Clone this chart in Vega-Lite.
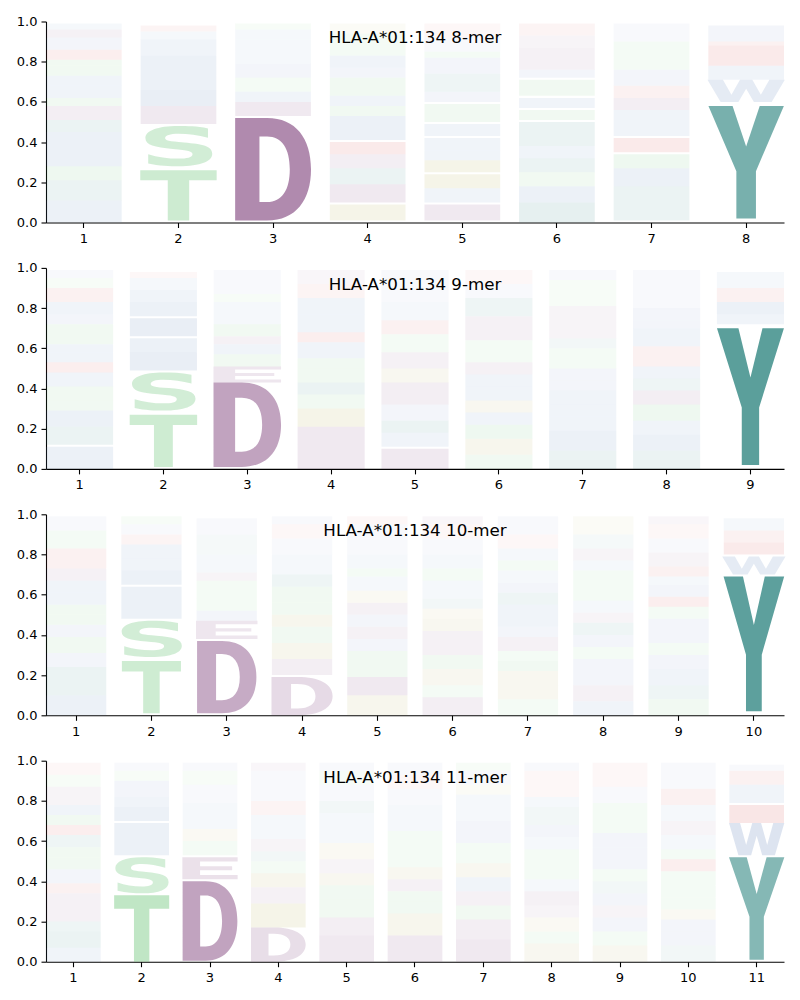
{
"$schema": "https://vega.github.io/schema/vega-lite/v6.json",
"background": "white",
"padding": {"left": 16, "top": 15.5, "right": 5, "bottom": 5},
"spacing": 16.4,
"config": {
  "view": {"stroke": null},
  "axis": {"labelFont": "DejaVu Sans", "labelFontSize": 13, "labelColor": "#000", "domainColor": "#000", "tickColor": "#000", "domainWidth": 1.1, "tickWidth": 1.1, "tickSize": 5, "grid": false, "title": null, "labelFlush": false},
  "title": {"font": "DejaVu Sans", "fontSize": 16.7, "fontWeight": "normal", "color": "#000", "frame": "group", "anchor": "middle", "baseline": "alphabetic", "offset": -31.5}
},
"resolve": {"scale": {"x": "independent", "y": "independent", "shape": "independent", "size": "independent", "opacity": "independent"}},
"datasets": {"logo": [
{"k":8,"pos":1,"aa":"F","lo":0,"hi":0.11,"a":0.15},{"k":8,"pos":1,"aa":"Y","lo":0.11,"hi":0.21,"a":0.12},{"k":8,"pos":1,"aa":"T","lo":0.21,"hi":0.28,"a":0.12},{"k":8,"pos":1,"aa":"M","lo":0.28,"hi":0.38,"a":0.15},{"k":8,"pos":1,"aa":"I","lo":0.38,"hi":0.45,"a":0.15},{"k":8,"pos":1,"aa":"Y","lo":0.45,"hi":0.51,"a":0.12},{"k":8,"pos":1,"aa":"D","lo":0.51,"hi":0.58,"a":0.12},{"k":8,"pos":1,"aa":"S","lo":0.58,"hi":0.62,"a":0.1},{"k":8,"pos":1,"aa":"L","lo":0.62,"hi":0.68,"a":0.12},{"k":8,"pos":1,"aa":"A","lo":0.68,"hi":0.73,"a":0.12},{"k":8,"pos":1,"aa":"N","lo":0.73,"hi":0.78,"a":0.1},{"k":8,"pos":1,"aa":"Q","lo":0.78,"hi":0.81,"a":0.1},{"k":8,"pos":1,"aa":"R","lo":0.81,"hi":0.86,"a":0.12},{"k":8,"pos":1,"aa":"V","lo":0.86,"hi":0.92,"a":0.1},{"k":8,"pos":1,"aa":"E","lo":0.92,"hi":0.96,"a":0.1},{"k":8,"pos":1,"aa":"M","lo":0.96,"hi":0.99,"a":0.08},
{"k":8,"pos":2,"aa":"T","lo":0.01,"hi":0.26,"a":0.31},{"k":8,"pos":2,"aa":"S","lo":0.28,"hi":0.48,"a":0.28},{"k":8,"pos":2,"aa":"D","lo":0.49,"hi":0.58,"a":0.15},{"k":8,"pos":2,"aa":"V","lo":0.58,"hi":0.66,"a":0.18},{"k":8,"pos":2,"aa":"A","lo":0.66,"hi":0.73,"a":0.15},{"k":8,"pos":2,"aa":"M","lo":0.73,"hi":0.78,"a":0.15},{"k":8,"pos":2,"aa":"I","lo":0.78,"hi":0.83,"a":0.15},{"k":8,"pos":2,"aa":"L","lo":0.83,"hi":0.91,"a":0.12},{"k":8,"pos":2,"aa":"F","lo":0.91,"hi":0.95,"a":0.08},{"k":8,"pos":2,"aa":"R","lo":0.95,"hi":0.98,"a":0.08},
{"k":8,"pos":3,"aa":"D","lo":0.01,"hi":0.52,"a":0.7},{"k":8,"pos":3,"aa":"E","lo":0.53,"hi":0.6,"a":0.15},{"k":8,"pos":3,"aa":"W","lo":0.6,"hi":0.65,"a":0.12},{"k":8,"pos":3,"aa":"N","lo":0.65,"hi":0.72,"a":0.08},{"k":8,"pos":3,"aa":"V","lo":0.72,"hi":0.79,"a":0.1},{"k":8,"pos":3,"aa":"M","lo":0.79,"hi":0.85,"a":0.08},{"k":8,"pos":3,"aa":"L","lo":0.85,"hi":0.91,"a":0.08},{"k":8,"pos":3,"aa":"A","lo":0.91,"hi":0.96,"a":0.08},{"k":8,"pos":3,"aa":"Q","lo":0.96,"hi":0.99,"a":0.06},
{"k":8,"pos":4,"aa":"P","lo":0.01,"hi":0.09,"a":0.15},{"k":8,"pos":4,"aa":"D","lo":0.1,"hi":0.19,"a":0.15},{"k":8,"pos":4,"aa":"H","lo":0.19,"hi":0.27,"a":0.12},{"k":8,"pos":4,"aa":"E","lo":0.27,"hi":0.34,"a":0.12},{"k":8,"pos":4,"aa":"K","lo":0.34,"hi":0.4,"a":0.15},{"k":8,"pos":4,"aa":"W","lo":0.41,"hi":0.53,"a":0.15},{"k":8,"pos":4,"aa":"N","lo":0.53,"hi":0.58,"a":0.1},{"k":8,"pos":4,"aa":"L","lo":0.58,"hi":0.63,"a":0.12},{"k":8,"pos":4,"aa":"Q","lo":0.63,"hi":0.72,"a":0.1},{"k":8,"pos":4,"aa":"F","lo":0.72,"hi":0.77,"a":0.1},{"k":8,"pos":4,"aa":"I","lo":0.77,"hi":0.83,"a":0.12},{"k":8,"pos":4,"aa":"N","lo":0.83,"hi":0.89,"a":0.08},{"k":8,"pos":4,"aa":"S","lo":0.89,"hi":0.94,"a":0.08},{"k":8,"pos":4,"aa":"G","lo":0.94,"hi":0.99,"a":0.06},
{"k":8,"pos":5,"aa":"C","lo":0.01,"hi":0.09,"a":0.15},{"k":8,"pos":5,"aa":"F","lo":0.1,"hi":0.17,"a":0.12},{"k":8,"pos":5,"aa":"G","lo":0.17,"hi":0.24,"a":0.15},{"k":8,"pos":5,"aa":"P","lo":0.25,"hi":0.31,"a":0.15},{"k":8,"pos":5,"aa":"V","lo":0.31,"hi":0.36,"a":0.12},{"k":8,"pos":5,"aa":"A","lo":0.36,"hi":0.42,"a":0.12},{"k":8,"pos":5,"aa":"I","lo":0.43,"hi":0.49,"a":0.12},{"k":8,"pos":5,"aa":"T","lo":0.5,"hi":0.59,"a":0.1},{"k":8,"pos":5,"aa":"L","lo":0.6,"hi":0.65,"a":0.1},{"k":8,"pos":5,"aa":"Y","lo":0.65,"hi":0.74,"a":0.1},{"k":8,"pos":5,"aa":"W","lo":0.74,"hi":0.82,"a":0.1},{"k":8,"pos":5,"aa":"Q","lo":0.82,"hi":0.85,"a":0.08},{"k":8,"pos":5,"aa":"M","lo":0.85,"hi":0.92,"a":0.06},{"k":8,"pos":5,"aa":"K","lo":0.92,"hi":0.99,"a":0.06},
{"k":8,"pos":6,"aa":"H","lo":0,"hi":0.1,"a":0.15},{"k":8,"pos":6,"aa":"M","lo":0.1,"hi":0.18,"a":0.15},{"k":8,"pos":6,"aa":"Q","lo":0.18,"hi":0.25,"a":0.1},{"k":8,"pos":6,"aa":"Y","lo":0.25,"hi":0.32,"a":0.12},{"k":8,"pos":6,"aa":"I","lo":0.32,"hi":0.38,"a":0.12},{"k":8,"pos":6,"aa":"H","lo":0.38,"hi":0.5,"a":0.12},{"k":8,"pos":6,"aa":"N","lo":0.51,"hi":0.56,"a":0.1},{"k":8,"pos":6,"aa":"W","lo":0.57,"hi":0.62,"a":0.12},{"k":8,"pos":6,"aa":"T","lo":0.63,"hi":0.71,"a":0.1},{"k":8,"pos":6,"aa":"V","lo":0.72,"hi":0.76,"a":0.1},{"k":8,"pos":6,"aa":"C","lo":0.76,"hi":0.87,"a":0.1},{"k":8,"pos":6,"aa":"E","lo":0.87,"hi":0.93,"a":0.08},{"k":8,"pos":6,"aa":"R","lo":0.93,"hi":0.99,"a":0.08},
{"k":8,"pos":7,"aa":"Y","lo":0.01,"hi":0.09,"a":0.12},{"k":8,"pos":7,"aa":"H","lo":0.09,"hi":0.18,"a":0.12},{"k":8,"pos":7,"aa":"L","lo":0.18,"hi":0.27,"a":0.15},{"k":8,"pos":7,"aa":"Q","lo":0.27,"hi":0.34,"a":0.12},{"k":8,"pos":7,"aa":"K","lo":0.35,"hi":0.42,"a":0.15},{"k":8,"pos":7,"aa":"F","lo":0.43,"hi":0.56,"a":0.12},{"k":8,"pos":7,"aa":"C","lo":0.56,"hi":0.62,"a":0.12},{"k":8,"pos":7,"aa":"R","lo":0.62,"hi":0.68,"a":0.1},{"k":8,"pos":7,"aa":"M","lo":0.68,"hi":0.76,"a":0.1},{"k":8,"pos":7,"aa":"T","lo":0.76,"hi":0.82,"a":0.08},{"k":8,"pos":7,"aa":"Q","lo":0.82,"hi":0.9,"a":0.08},{"k":8,"pos":7,"aa":"L","lo":0.9,"hi":0.99,"a":0.06},
{"k":8,"pos":8,"aa":"Y","lo":0.02,"hi":0.58,"a":0.7},{"k":8,"pos":8,"aa":"W","lo":0.6,"hi":0.71,"a":0.18},{"k":8,"pos":8,"aa":"F","lo":0.71,"hi":0.78,"a":0.12},{"k":8,"pos":8,"aa":"K","lo":0.78,"hi":0.88,"a":0.15},{"k":8,"pos":8,"aa":"R","lo":0.88,"hi":0.9,"a":0.1},{"k":8,"pos":8,"aa":"F","lo":0.9,"hi":0.98,"a":0.1},

{"k":9,"pos":1,"aa":"F","lo":0,"hi":0.11,"a":0.15},{"k":9,"pos":1,"aa":"Y","lo":0.12,"hi":0.21,"a":0.12},{"k":9,"pos":1,"aa":"M","lo":0.21,"hi":0.29,"a":0.15},{"k":9,"pos":1,"aa":"T","lo":0.29,"hi":0.34,"a":0.1},{"k":9,"pos":1,"aa":"S","lo":0.34,"hi":0.41,"a":0.1},{"k":9,"pos":1,"aa":"V","lo":0.41,"hi":0.48,"a":0.12},{"k":9,"pos":1,"aa":"K","lo":0.48,"hi":0.53,"a":0.12},{"k":9,"pos":1,"aa":"L","lo":0.53,"hi":0.58,"a":0.12},{"k":9,"pos":1,"aa":"I","lo":0.58,"hi":0.62,"a":0.12},{"k":9,"pos":1,"aa":"Q","lo":0.62,"hi":0.72,"a":0.1},{"k":9,"pos":1,"aa":"I","lo":0.72,"hi":0.77,"a":0.1},{"k":9,"pos":1,"aa":"W","lo":0.77,"hi":0.83,"a":0.12},{"k":9,"pos":1,"aa":"R","lo":0.83,"hi":0.9,"a":0.1},{"k":9,"pos":1,"aa":"N","lo":0.9,"hi":0.95,"a":0.06},{"k":9,"pos":1,"aa":"M","lo":0.95,"hi":0.99,"a":0.06},
{"k":9,"pos":2,"aa":"T","lo":0.01,"hi":0.27,"a":0.3},{"k":9,"pos":2,"aa":"S","lo":0.29,"hi":0.48,"a":0.28},{"k":9,"pos":2,"aa":"V","lo":0.49,"hi":0.58,"a":0.18},{"k":9,"pos":2,"aa":"A","lo":0.58,"hi":0.65,"a":0.15},{"k":9,"pos":2,"aa":"M","lo":0.66,"hi":0.75,"a":0.18},{"k":9,"pos":2,"aa":"I","lo":0.76,"hi":0.83,"a":0.15},{"k":9,"pos":2,"aa":"L","lo":0.83,"hi":0.89,"a":0.12},{"k":9,"pos":2,"aa":"F","lo":0.89,"hi":0.95,"a":0.08},{"k":9,"pos":2,"aa":"R","lo":0.95,"hi":0.98,"a":0.06},
{"k":9,"pos":3,"aa":"D","lo":0.01,"hi":0.43,"a":0.55},{"k":9,"pos":3,"aa":"E","lo":0.43,"hi":0.51,"a":0.15},{"k":9,"pos":3,"aa":"N","lo":0.51,"hi":0.57,"a":0.1},{"k":9,"pos":3,"aa":"L","lo":0.57,"hi":0.62,"a":0.12},{"k":9,"pos":3,"aa":"C","lo":0.62,"hi":0.66,"a":0.1},{"k":9,"pos":3,"aa":"Q","lo":0.66,"hi":0.72,"a":0.1},{"k":9,"pos":3,"aa":"A","lo":0.72,"hi":0.77,"a":0.08},{"k":9,"pos":3,"aa":"W","lo":0.77,"hi":0.83,"a":0.08},{"k":9,"pos":3,"aa":"Q","lo":0.83,"hi":0.87,"a":0.06},{"k":9,"pos":3,"aa":"V","lo":0.87,"hi":0.94,"a":0.06},{"k":9,"pos":3,"aa":"M","lo":0.94,"hi":0.99,"a":0.06},
{"k":9,"pos":4,"aa":"D","lo":0,"hi":0.12,"a":0.15},{"k":9,"pos":4,"aa":"E","lo":0.12,"hi":0.21,"a":0.15},{"k":9,"pos":4,"aa":"P","lo":0.21,"hi":0.3,"a":0.15},{"k":9,"pos":4,"aa":"N","lo":0.3,"hi":0.37,"a":0.1},{"k":9,"pos":4,"aa":"H","lo":0.37,"hi":0.43,"a":0.12},{"k":9,"pos":4,"aa":"Q","lo":0.43,"hi":0.5,"a":0.1},{"k":9,"pos":4,"aa":"S","lo":0.5,"hi":0.55,"a":0.1},{"k":9,"pos":4,"aa":"A","lo":0.55,"hi":0.63,"a":0.12},{"k":9,"pos":4,"aa":"K","lo":0.63,"hi":0.68,"a":0.12},{"k":9,"pos":4,"aa":"V","lo":0.68,"hi":0.77,"a":0.12},{"k":9,"pos":4,"aa":"L","lo":0.77,"hi":0.85,"a":0.12},{"k":9,"pos":4,"aa":"R","lo":0.85,"hi":0.92,"a":0.08},{"k":9,"pos":4,"aa":"E","lo":0.92,"hi":0.99,"a":0.06},
{"k":9,"pos":5,"aa":"C","lo":0,"hi":0.1,"a":0.15},{"k":9,"pos":5,"aa":"I","lo":0.11,"hi":0.18,"a":0.12},{"k":9,"pos":5,"aa":"H","lo":0.18,"hi":0.24,"a":0.12},{"k":9,"pos":5,"aa":"V","lo":0.24,"hi":0.32,"a":0.1},{"k":9,"pos":5,"aa":"D","lo":0.32,"hi":0.43,"a":0.12},{"k":9,"pos":5,"aa":"G","lo":0.43,"hi":0.5,"a":0.1},{"k":9,"pos":5,"aa":"E","lo":0.5,"hi":0.58,"a":0.1},{"k":9,"pos":5,"aa":"N","lo":0.58,"hi":0.67,"a":0.08},{"k":9,"pos":5,"aa":"K","lo":0.67,"hi":0.74,"a":0.1},{"k":9,"pos":5,"aa":"A","lo":0.74,"hi":0.83,"a":0.08},{"k":9,"pos":5,"aa":"L","lo":0.83,"hi":0.92,"a":0.06},{"k":9,"pos":5,"aa":"F","lo":0.92,"hi":0.99,"a":0.06},
{"k":9,"pos":6,"aa":"T","lo":0,"hi":0.07,"a":0.1},{"k":9,"pos":6,"aa":"P","lo":0.07,"hi":0.15,"a":0.12},{"k":9,"pos":6,"aa":"Q","lo":0.15,"hi":0.22,"a":0.12},{"k":9,"pos":6,"aa":"I","lo":0.22,"hi":0.28,"a":0.12},{"k":9,"pos":6,"aa":"G","lo":0.28,"hi":0.34,"a":0.1},{"k":9,"pos":6,"aa":"V","lo":0.34,"hi":0.41,"a":0.12},{"k":9,"pos":6,"aa":"L","lo":0.41,"hi":0.47,"a":0.12},{"k":9,"pos":6,"aa":"C","lo":0.47,"hi":0.53,"a":0.1},{"k":9,"pos":6,"aa":"N","lo":0.53,"hi":0.64,"a":0.08},{"k":9,"pos":6,"aa":"D","lo":0.64,"hi":0.76,"a":0.1},{"k":9,"pos":6,"aa":"Y","lo":0.76,"hi":0.85,"a":0.1},{"k":9,"pos":6,"aa":"M","lo":0.85,"hi":0.92,"a":0.06},{"k":9,"pos":6,"aa":"R","lo":0.92,"hi":0.99,"a":0.06},
{"k":9,"pos":7,"aa":"H","lo":0,"hi":0.09,"a":0.12},{"k":9,"pos":7,"aa":"W","lo":0.09,"hi":0.19,"a":0.15},{"k":9,"pos":7,"aa":"L","lo":0.19,"hi":0.26,"a":0.12},{"k":9,"pos":7,"aa":"I","lo":0.26,"hi":0.32,"a":0.12},{"k":9,"pos":7,"aa":"M","lo":0.32,"hi":0.39,"a":0.12},{"k":9,"pos":7,"aa":"F","lo":0.39,"hi":0.44,"a":0.1},{"k":9,"pos":7,"aa":"V","lo":0.44,"hi":0.5,"a":0.1},{"k":9,"pos":7,"aa":"N","lo":0.5,"hi":0.55,"a":0.08},{"k":9,"pos":7,"aa":"Q","lo":0.55,"hi":0.6,"a":0.08},{"k":9,"pos":7,"aa":"Y","lo":0.6,"hi":0.65,"a":0.08},{"k":9,"pos":7,"aa":"C","lo":0.65,"hi":0.69,"a":0.08},{"k":9,"pos":7,"aa":"E","lo":0.69,"hi":0.73,"a":0.08},{"k":9,"pos":7,"aa":"D","lo":0.73,"hi":0.81,"a":0.08},{"k":9,"pos":7,"aa":"T","lo":0.81,"hi":0.86,"a":0.06},{"k":9,"pos":7,"aa":"Q","lo":0.86,"hi":0.94,"a":0.06},{"k":9,"pos":7,"aa":"A","lo":0.94,"hi":0.99,"a":0.06},
{"k":9,"pos":8,"aa":"H","lo":0,"hi":0.09,"a":0.12},{"k":9,"pos":8,"aa":"L","lo":0.09,"hi":0.17,"a":0.15},{"k":9,"pos":8,"aa":"F","lo":0.17,"hi":0.24,"a":0.12},{"k":9,"pos":8,"aa":"Q","lo":0.24,"hi":0.32,"a":0.12},{"k":9,"pos":8,"aa":"E","lo":0.32,"hi":0.39,"a":0.12},{"k":9,"pos":8,"aa":"Y","lo":0.39,"hi":0.45,"a":0.1},{"k":9,"pos":8,"aa":"V","lo":0.45,"hi":0.51,"a":0.12},{"k":9,"pos":8,"aa":"R","lo":0.51,"hi":0.61,"a":0.1},{"k":9,"pos":8,"aa":"A","lo":0.61,"hi":0.7,"a":0.12},{"k":9,"pos":8,"aa":"I","lo":0.7,"hi":0.74,"a":0.1},{"k":9,"pos":8,"aa":"V","lo":0.74,"hi":0.8,"a":0.1},{"k":9,"pos":8,"aa":"M","lo":0.8,"hi":0.88,"a":0.06},{"k":9,"pos":8,"aa":"W","lo":0.88,"hi":0.95,"a":0.06},{"k":9,"pos":8,"aa":"F","lo":0.95,"hi":0.99,"a":0.06},
{"k":9,"pos":9,"aa":"Y","lo":0.02,"hi":0.7,"a":0.85},{"k":9,"pos":9,"aa":"F","lo":0.72,"hi":0.77,"a":0.12},{"k":9,"pos":9,"aa":"W","lo":0.77,"hi":0.83,"a":0.15},{"k":9,"pos":9,"aa":"R","lo":0.83,"hi":0.9,"a":0.1},{"k":9,"pos":9,"aa":"M","lo":0.9,"hi":0.98,"a":0.08},

{"k":10,"pos":1,"aa":"F","lo":0,"hi":0.1,"a":0.15},{"k":10,"pos":1,"aa":"Y","lo":0.1,"hi":0.24,"a":0.12},{"k":10,"pos":1,"aa":"I","lo":0.24,"hi":0.31,"a":0.1},{"k":10,"pos":1,"aa":"S","lo":0.31,"hi":0.39,"a":0.1},{"k":10,"pos":1,"aa":"A","lo":0.39,"hi":0.45,"a":0.1},{"k":10,"pos":1,"aa":"T","lo":0.45,"hi":0.5,"a":0.1},{"k":10,"pos":1,"aa":"Q","lo":0.5,"hi":0.55,"a":0.1},{"k":10,"pos":1,"aa":"M","lo":0.55,"hi":0.61,"a":0.12},{"k":10,"pos":1,"aa":"V","lo":0.61,"hi":0.67,"a":0.12},{"k":10,"pos":1,"aa":"E","lo":0.67,"hi":0.73,"a":0.1},{"k":10,"pos":1,"aa":"R","lo":0.73,"hi":0.83,"a":0.1},{"k":10,"pos":1,"aa":"N","lo":0.83,"hi":0.92,"a":0.08},{"k":10,"pos":1,"aa":"M","lo":0.92,"hi":0.99,"a":0.06},
{"k":10,"pos":2,"aa":"T","lo":0.01,"hi":0.27,"a":0.3},{"k":10,"pos":2,"aa":"S","lo":0.29,"hi":0.47,"a":0.28},{"k":10,"pos":2,"aa":"V","lo":0.48,"hi":0.56,"a":0.15},{"k":10,"pos":2,"aa":"M","lo":0.56,"hi":0.64,"a":0.15},{"k":10,"pos":2,"aa":"I","lo":0.65,"hi":0.72,"a":0.15},{"k":10,"pos":2,"aa":"L","lo":0.72,"hi":0.78,"a":0.12},{"k":10,"pos":2,"aa":"A","lo":0.78,"hi":0.85,"a":0.12},{"k":10,"pos":2,"aa":"R","lo":0.85,"hi":0.9,"a":0.08},{"k":10,"pos":2,"aa":"F","lo":0.9,"hi":0.95,"a":0.06},{"k":10,"pos":2,"aa":"Q","lo":0.95,"hi":0.99,"a":0.06},
{"k":10,"pos":3,"aa":"D","lo":0.01,"hi":0.37,"a":0.5},{"k":10,"pos":3,"aa":"E","lo":0.38,"hi":0.47,"a":0.15},{"k":10,"pos":3,"aa":"L","lo":0.47,"hi":0.52,"a":0.1},{"k":10,"pos":3,"aa":"N","lo":0.52,"hi":0.58,"a":0.08},{"k":10,"pos":3,"aa":"Q","lo":0.58,"hi":0.67,"a":0.08},{"k":10,"pos":3,"aa":"C","lo":0.67,"hi":0.71,"a":0.08},{"k":10,"pos":3,"aa":"W","lo":0.71,"hi":0.8,"a":0.08},{"k":10,"pos":3,"aa":"Y","lo":0.8,"hi":0.9,"a":0.06},{"k":10,"pos":3,"aa":"V","lo":0.9,"hi":0.98,"a":0.06},
{"k":10,"pos":4,"aa":"D","lo":0,"hi":0.19,"a":0.22},{"k":10,"pos":4,"aa":"E","lo":0.2,"hi":0.28,"a":0.12},{"k":10,"pos":4,"aa":"P","lo":0.28,"hi":0.36,"a":0.12},{"k":10,"pos":4,"aa":"N","lo":0.36,"hi":0.44,"a":0.1},{"k":10,"pos":4,"aa":"G","lo":0.44,"hi":0.5,"a":0.12},{"k":10,"pos":4,"aa":"S","lo":0.5,"hi":0.56,"a":0.1},{"k":10,"pos":4,"aa":"Q","lo":0.56,"hi":0.64,"a":0.1},{"k":10,"pos":4,"aa":"H","lo":0.64,"hi":0.7,"a":0.1},{"k":10,"pos":4,"aa":"V","lo":0.7,"hi":0.8,"a":0.08},{"k":10,"pos":4,"aa":"L","lo":0.8,"hi":0.88,"a":0.06},{"k":10,"pos":4,"aa":"K","lo":0.88,"hi":0.95,"a":0.06},{"k":10,"pos":4,"aa":"A","lo":0.95,"hi":0.99,"a":0.06},
{"k":10,"pos":5,"aa":"G","lo":0,"hi":0.1,"a":0.12},{"k":10,"pos":5,"aa":"D","lo":0.1,"hi":0.19,"a":0.15},{"k":10,"pos":5,"aa":"N","lo":0.19,"hi":0.26,"a":0.1},{"k":10,"pos":5,"aa":"S","lo":0.26,"hi":0.32,"a":0.1},{"k":10,"pos":5,"aa":"F","lo":0.32,"hi":0.38,"a":0.1},{"k":10,"pos":5,"aa":"E","lo":0.38,"hi":0.44,"a":0.1},{"k":10,"pos":5,"aa":"A","lo":0.44,"hi":0.5,"a":0.1},{"k":10,"pos":5,"aa":"C","lo":0.5,"hi":0.56,"a":0.1},{"k":10,"pos":5,"aa":"P","lo":0.56,"hi":0.62,"a":0.08},{"k":10,"pos":5,"aa":"I","lo":0.62,"hi":0.69,"a":0.08},{"k":10,"pos":5,"aa":"Q","lo":0.69,"hi":0.73,"a":0.08},{"k":10,"pos":5,"aa":"M","lo":0.73,"hi":0.8,"a":0.08},{"k":10,"pos":5,"aa":"V","lo":0.8,"hi":0.88,"a":0.06},{"k":10,"pos":5,"aa":"L","lo":0.88,"hi":0.95,"a":0.06},{"k":10,"pos":5,"aa":"K","lo":0.95,"hi":0.99,"a":0.06},
{"k":10,"pos":6,"aa":"D","lo":0,"hi":0.09,"a":0.12},{"k":10,"pos":6,"aa":"T","lo":0.09,"hi":0.15,"a":0.08},{"k":10,"pos":6,"aa":"G","lo":0.15,"hi":0.23,"a":0.1},{"k":10,"pos":6,"aa":"N","lo":0.23,"hi":0.3,"a":0.1},{"k":10,"pos":6,"aa":"E","lo":0.3,"hi":0.36,"a":0.1},{"k":10,"pos":6,"aa":"C","lo":0.36,"hi":0.42,"a":0.1},{"k":10,"pos":6,"aa":"P","lo":0.42,"hi":0.48,"a":0.1},{"k":10,"pos":6,"aa":"G","lo":0.48,"hi":0.53,"a":0.08},{"k":10,"pos":6,"aa":"H","lo":0.53,"hi":0.58,"a":0.08},{"k":10,"pos":6,"aa":"V","lo":0.58,"hi":0.63,"a":0.08},{"k":10,"pos":6,"aa":"I","lo":0.63,"hi":0.67,"a":0.08},{"k":10,"pos":6,"aa":"Q","lo":0.67,"hi":0.73,"a":0.08},{"k":10,"pos":6,"aa":"M","lo":0.73,"hi":0.8,"a":0.08},{"k":10,"pos":6,"aa":"L","lo":0.8,"hi":0.88,"a":0.06},{"k":10,"pos":6,"aa":"K","lo":0.88,"hi":0.95,"a":0.06},{"k":10,"pos":6,"aa":"E","lo":0.95,"hi":0.99,"a":0.06},
{"k":10,"pos":7,"aa":"N","lo":0,"hi":0.08,"a":0.08},{"k":10,"pos":7,"aa":"G","lo":0.08,"hi":0.15,"a":0.1},{"k":10,"pos":7,"aa":"P","lo":0.15,"hi":0.22,"a":0.1},{"k":10,"pos":7,"aa":"S","lo":0.22,"hi":0.27,"a":0.1},{"k":10,"pos":7,"aa":"T","lo":0.27,"hi":0.32,"a":0.08},{"k":10,"pos":7,"aa":"D","lo":0.32,"hi":0.39,"a":0.1},{"k":10,"pos":7,"aa":"L","lo":0.39,"hi":0.44,"a":0.1},{"k":10,"pos":7,"aa":"W","lo":0.44,"hi":0.55,"a":0.12},{"k":10,"pos":7,"aa":"H","lo":0.55,"hi":0.61,"a":0.1},{"k":10,"pos":7,"aa":"F","lo":0.61,"hi":0.66,"a":0.1},{"k":10,"pos":7,"aa":"I","lo":0.66,"hi":0.72,"a":0.08},{"k":10,"pos":7,"aa":"Q","lo":0.72,"hi":0.77,"a":0.08},{"k":10,"pos":7,"aa":"M","lo":0.77,"hi":0.83,"a":0.08},{"k":10,"pos":7,"aa":"R","lo":0.83,"hi":0.9,"a":0.06},{"k":10,"pos":7,"aa":"A","lo":0.9,"hi":0.99,"a":0.06},
{"k":10,"pos":8,"aa":"W","lo":0,"hi":0.07,"a":0.12},{"k":10,"pos":8,"aa":"C","lo":0.07,"hi":0.15,"a":0.1},{"k":10,"pos":8,"aa":"L","lo":0.15,"hi":0.21,"a":0.1},{"k":10,"pos":8,"aa":"M","lo":0.21,"hi":0.28,"a":0.1},{"k":10,"pos":8,"aa":"N","lo":0.28,"hi":0.34,"a":0.08},{"k":10,"pos":8,"aa":"A","lo":0.34,"hi":0.4,"a":0.1},{"k":10,"pos":8,"aa":"H","lo":0.4,"hi":0.46,"a":0.1},{"k":10,"pos":8,"aa":"E","lo":0.46,"hi":0.51,"a":0.08},{"k":10,"pos":8,"aa":"F","lo":0.51,"hi":0.57,"a":0.08},{"k":10,"pos":8,"aa":"T","lo":0.57,"hi":0.61,"a":0.08},{"k":10,"pos":8,"aa":"Q","lo":0.61,"hi":0.67,"a":0.08},{"k":10,"pos":8,"aa":"S","lo":0.67,"hi":0.72,"a":0.08},{"k":10,"pos":8,"aa":"V","lo":0.72,"hi":0.77,"a":0.08},{"k":10,"pos":8,"aa":"D","lo":0.77,"hi":0.83,"a":0.08},{"k":10,"pos":8,"aa":"Y","lo":0.83,"hi":0.9,"a":0.06},{"k":10,"pos":8,"aa":"G","lo":0.9,"hi":0.99,"a":0.06},
{"k":10,"pos":9,"aa":"Q","lo":0,"hi":0.08,"a":0.1},{"k":10,"pos":9,"aa":"Y","lo":0.08,"hi":0.15,"a":0.1},{"k":10,"pos":9,"aa":"W","lo":0.15,"hi":0.23,"a":0.12},{"k":10,"pos":9,"aa":"V","lo":0.23,"hi":0.3,"a":0.1},{"k":10,"pos":9,"aa":"N","lo":0.3,"hi":0.36,"a":0.08},{"k":10,"pos":9,"aa":"L","lo":0.36,"hi":0.41,"a":0.1},{"k":10,"pos":9,"aa":"I","lo":0.41,"hi":0.48,"a":0.1},{"k":10,"pos":9,"aa":"S","lo":0.48,"hi":0.54,"a":0.08},{"k":10,"pos":9,"aa":"R","lo":0.54,"hi":0.59,"a":0.12},{"k":10,"pos":9,"aa":"M","lo":0.59,"hi":0.65,"a":0.1},{"k":10,"pos":9,"aa":"A","lo":0.65,"hi":0.69,"a":0.08},{"k":10,"pos":9,"aa":"K","lo":0.69,"hi":0.74,"a":0.1},{"k":10,"pos":9,"aa":"C","lo":0.74,"hi":0.81,"a":0.08},{"k":10,"pos":9,"aa":"F","lo":0.81,"hi":0.88,"a":0.06},{"k":10,"pos":9,"aa":"R","lo":0.88,"hi":0.95,"a":0.06},{"k":10,"pos":9,"aa":"E","lo":0.95,"hi":0.99,"a":0.06},
{"k":10,"pos":10,"aa":"Y","lo":0.02,"hi":0.69,"a":0.84},{"k":10,"pos":10,"aa":"W","lo":0.7,"hi":0.79,"a":0.18},{"k":10,"pos":10,"aa":"K","lo":0.8,"hi":0.86,"a":0.15},{"k":10,"pos":10,"aa":"R","lo":0.86,"hi":0.92,"a":0.1},{"k":10,"pos":10,"aa":"F","lo":0.92,"hi":0.98,"a":0.08},

{"k":11,"pos":1,"aa":"F","lo":0,"hi":0.07,"a":0.12},{"k":11,"pos":1,"aa":"H","lo":0.07,"hi":0.15,"a":0.12},{"k":11,"pos":1,"aa":"Y","lo":0.15,"hi":0.2,"a":0.1},{"k":11,"pos":1,"aa":"D","lo":0.2,"hi":0.27,"a":0.1},{"k":11,"pos":1,"aa":"E","lo":0.27,"hi":0.34,"a":0.1},{"k":11,"pos":1,"aa":"K","lo":0.34,"hi":0.39,"a":0.1},{"k":11,"pos":1,"aa":"A","lo":0.39,"hi":0.46,"a":0.1},{"k":11,"pos":1,"aa":"S","lo":0.46,"hi":0.52,"a":0.1},{"k":11,"pos":1,"aa":"T","lo":0.52,"hi":0.57,"a":0.1},{"k":11,"pos":1,"aa":"H","lo":0.57,"hi":0.63,"a":0.1},{"k":11,"pos":1,"aa":"R","lo":0.63,"hi":0.68,"a":0.12},{"k":11,"pos":1,"aa":"N","lo":0.68,"hi":0.73,"a":0.1},{"k":11,"pos":1,"aa":"M","lo":0.73,"hi":0.78,"a":0.12},{"k":11,"pos":1,"aa":"C","lo":0.78,"hi":0.87,"a":0.08},{"k":11,"pos":1,"aa":"Q","lo":0.87,"hi":0.93,"a":0.06},{"k":11,"pos":1,"aa":"K","lo":0.93,"hi":0.99,"a":0.06},
{"k":11,"pos":2,"aa":"T","lo":0,"hi":0.33,"a":0.39},{"k":11,"pos":2,"aa":"S","lo":0.34,"hi":0.52,"a":0.27},{"k":11,"pos":2,"aa":"V","lo":0.53,"hi":0.63,"a":0.15},{"k":11,"pos":2,"aa":"A","lo":0.63,"hi":0.69,"a":0.15},{"k":11,"pos":2,"aa":"M","lo":0.7,"hi":0.77,"a":0.15},{"k":11,"pos":2,"aa":"I","lo":0.77,"hi":0.82,"a":0.12},{"k":11,"pos":2,"aa":"F","lo":0.82,"hi":0.9,"a":0.1},{"k":11,"pos":2,"aa":"N","lo":0.9,"hi":0.95,"a":0.06},{"k":11,"pos":2,"aa":"L","lo":0.95,"hi":0.99,"a":0.06},
{"k":11,"pos":3,"aa":"D","lo":0.005,"hi":0.4,"a":0.55},{"k":11,"pos":3,"aa":"E","lo":0.41,"hi":0.52,"a":0.18},{"k":11,"pos":3,"aa":"Q","lo":0.53,"hi":0.6,"a":0.08},{"k":11,"pos":3,"aa":"G","lo":0.6,"hi":0.66,"a":0.08},{"k":11,"pos":3,"aa":"W","lo":0.66,"hi":0.73,"a":0.08},{"k":11,"pos":3,"aa":"A","lo":0.73,"hi":0.79,"a":0.08},{"k":11,"pos":3,"aa":"L","lo":0.79,"hi":0.88,"a":0.06},{"k":11,"pos":3,"aa":"N","lo":0.88,"hi":0.95,"a":0.06},{"k":11,"pos":3,"aa":"M","lo":0.95,"hi":0.99,"a":0.06},
{"k":11,"pos":4,"aa":"D","lo":0,"hi":0.17,"a":0.2},{"k":11,"pos":4,"aa":"P","lo":0.17,"hi":0.29,"a":0.15},{"k":11,"pos":4,"aa":"E","lo":0.29,"hi":0.37,"a":0.1},{"k":11,"pos":4,"aa":"G","lo":0.37,"hi":0.44,"a":0.12},{"k":11,"pos":4,"aa":"S","lo":0.44,"hi":0.5,"a":0.08},{"k":11,"pos":4,"aa":"H","lo":0.5,"hi":0.55,"a":0.08},{"k":11,"pos":4,"aa":"C","lo":0.55,"hi":0.61,"a":0.08},{"k":11,"pos":4,"aa":"A","lo":0.61,"hi":0.67,"a":0.08},{"k":11,"pos":4,"aa":"W","lo":0.67,"hi":0.73,"a":0.08},{"k":11,"pos":4,"aa":"K","lo":0.73,"hi":0.8,"a":0.08},{"k":11,"pos":4,"aa":"V","lo":0.8,"hi":0.88,"a":0.06},{"k":11,"pos":4,"aa":"L","lo":0.88,"hi":0.95,"a":0.06},{"k":11,"pos":4,"aa":"E","lo":0.95,"hi":0.99,"a":0.06},
{"k":11,"pos":5,"aa":"D","lo":0,"hi":0.13,"a":0.15},{"k":11,"pos":5,"aa":"E","lo":0.13,"hi":0.22,"a":0.12},{"k":11,"pos":5,"aa":"N","lo":0.22,"hi":0.31,"a":0.1},{"k":11,"pos":5,"aa":"S","lo":0.31,"hi":0.38,"a":0.1},{"k":11,"pos":5,"aa":"G","lo":0.38,"hi":0.44,"a":0.1},{"k":11,"pos":5,"aa":"C","lo":0.44,"hi":0.51,"a":0.08},{"k":11,"pos":5,"aa":"P","lo":0.51,"hi":0.59,"a":0.08},{"k":11,"pos":5,"aa":"A","lo":0.59,"hi":0.66,"a":0.08},{"k":11,"pos":5,"aa":"W","lo":0.66,"hi":0.74,"a":0.08},{"k":11,"pos":5,"aa":"Y","lo":0.74,"hi":0.8,"a":0.08},{"k":11,"pos":5,"aa":"L","lo":0.8,"hi":0.88,"a":0.06},{"k":11,"pos":5,"aa":"Q","lo":0.88,"hi":0.95,"a":0.06},{"k":11,"pos":5,"aa":"V","lo":0.95,"hi":0.99,"a":0.06},
{"k":11,"pos":6,"aa":"D","lo":0,"hi":0.13,"a":0.15},{"k":11,"pos":6,"aa":"G","lo":0.13,"hi":0.24,"a":0.12},{"k":11,"pos":6,"aa":"S","lo":0.24,"hi":0.3,"a":0.1},{"k":11,"pos":6,"aa":"Q","lo":0.3,"hi":0.35,"a":0.1},{"k":11,"pos":6,"aa":"E","lo":0.35,"hi":0.41,"a":0.1},{"k":11,"pos":6,"aa":"P","lo":0.41,"hi":0.47,"a":0.1},{"k":11,"pos":6,"aa":"N","lo":0.47,"hi":0.54,"a":0.08},{"k":11,"pos":6,"aa":"Q","lo":0.54,"hi":0.65,"a":0.08},{"k":11,"pos":6,"aa":"A","lo":0.65,"hi":0.73,"a":0.08},{"k":11,"pos":6,"aa":"I","lo":0.73,"hi":0.78,"a":0.08},{"k":11,"pos":6,"aa":"L","lo":0.78,"hi":0.86,"a":0.06},{"k":11,"pos":6,"aa":"K","lo":0.86,"hi":0.93,"a":0.06},{"k":11,"pos":6,"aa":"F","lo":0.93,"hi":0.99,"a":0.06},
{"k":11,"pos":7,"aa":"C","lo":0,"hi":0.11,"a":0.15},{"k":11,"pos":7,"aa":"D","lo":0.11,"hi":0.21,"a":0.12},{"k":11,"pos":7,"aa":"N","lo":0.21,"hi":0.28,"a":0.1},{"k":11,"pos":7,"aa":"E","lo":0.28,"hi":0.35,"a":0.1},{"k":11,"pos":7,"aa":"W","lo":0.35,"hi":0.42,"a":0.12},{"k":11,"pos":7,"aa":"G","lo":0.42,"hi":0.49,"a":0.1},{"k":11,"pos":7,"aa":"Q","lo":0.49,"hi":0.55,"a":0.08},{"k":11,"pos":7,"aa":"S","lo":0.55,"hi":0.59,"a":0.08},{"k":11,"pos":7,"aa":"V","lo":0.59,"hi":0.7,"a":0.1},{"k":11,"pos":7,"aa":"I","lo":0.7,"hi":0.74,"a":0.08},{"k":11,"pos":7,"aa":"L","lo":0.74,"hi":0.83,"a":0.08},{"k":11,"pos":7,"aa":"P","lo":0.83,"hi":0.88,"a":0.06},{"k":11,"pos":7,"aa":"F","lo":0.88,"hi":0.95,"a":0.06},{"k":11,"pos":7,"aa":"Q","lo":0.95,"hi":0.99,"a":0.06},
{"k":11,"pos":8,"aa":"G","lo":0,"hi":0.09,"a":0.1},{"k":11,"pos":8,"aa":"Q","lo":0.09,"hi":0.15,"a":0.08},{"k":11,"pos":8,"aa":"P","lo":0.15,"hi":0.22,"a":0.08},{"k":11,"pos":8,"aa":"D","lo":0.22,"hi":0.28,"a":0.08},{"k":11,"pos":8,"aa":"E","lo":0.28,"hi":0.35,"a":0.1},{"k":11,"pos":8,"aa":"A","lo":0.35,"hi":0.41,"a":0.08},{"k":11,"pos":8,"aa":"N","lo":0.41,"hi":0.5,"a":0.08},{"k":11,"pos":8,"aa":"S","lo":0.5,"hi":0.56,"a":0.08},{"k":11,"pos":8,"aa":"L","lo":0.56,"hi":0.62,"a":0.08},{"k":11,"pos":8,"aa":"W","lo":0.62,"hi":0.68,"a":0.1},{"k":11,"pos":8,"aa":"Y","lo":0.68,"hi":0.77,"a":0.08},{"k":11,"pos":8,"aa":"I","lo":0.77,"hi":0.82,"a":0.08},{"k":11,"pos":8,"aa":"R","lo":0.82,"hi":0.9,"a":0.06},{"k":11,"pos":8,"aa":"K","lo":0.9,"hi":0.95,"a":0.06},{"k":11,"pos":8,"aa":"M","lo":0.95,"hi":0.99,"a":0.06},
{"k":11,"pos":9,"aa":"G","lo":0,"hi":0.08,"a":0.1},{"k":11,"pos":9,"aa":"N","lo":0.08,"hi":0.15,"a":0.08},{"k":11,"pos":9,"aa":"M","lo":0.15,"hi":0.22,"a":0.1},{"k":11,"pos":9,"aa":"D","lo":0.22,"hi":0.28,"a":0.08},{"k":11,"pos":9,"aa":"A","lo":0.28,"hi":0.34,"a":0.1},{"k":11,"pos":9,"aa":"H","lo":0.34,"hi":0.4,"a":0.08},{"k":11,"pos":9,"aa":"S","lo":0.4,"hi":0.46,"a":0.08},{"k":11,"pos":9,"aa":"L","lo":0.46,"hi":0.57,"a":0.1},{"k":11,"pos":9,"aa":"W","lo":0.57,"hi":0.64,"a":0.1},{"k":11,"pos":9,"aa":"Q","lo":0.64,"hi":0.73,"a":0.08},{"k":11,"pos":9,"aa":"T","lo":0.73,"hi":0.79,"a":0.08},{"k":11,"pos":9,"aa":"F","lo":0.79,"hi":0.87,"a":0.06},{"k":11,"pos":9,"aa":"R","lo":0.87,"hi":0.95,"a":0.06},{"k":11,"pos":9,"aa":"K","lo":0.95,"hi":0.99,"a":0.06},
{"k":11,"pos":10,"aa":"Y","lo":0,"hi":0.08,"a":0.08},{"k":11,"pos":10,"aa":"L","lo":0.08,"hi":0.15,"a":0.1},{"k":11,"pos":10,"aa":"M","lo":0.15,"hi":0.21,"a":0.1},{"k":11,"pos":10,"aa":"G","lo":0.21,"hi":0.26,"a":0.08},{"k":11,"pos":10,"aa":"S","lo":0.26,"hi":0.32,"a":0.08},{"k":11,"pos":10,"aa":"Q","lo":0.32,"hi":0.38,"a":0.08},{"k":11,"pos":10,"aa":"N","lo":0.38,"hi":0.45,"a":0.08},{"k":11,"pos":10,"aa":"K","lo":0.45,"hi":0.51,"a":0.12},{"k":11,"pos":10,"aa":"T","lo":0.51,"hi":0.56,"a":0.08},{"k":11,"pos":10,"aa":"A","lo":0.56,"hi":0.63,"a":0.08},{"k":11,"pos":10,"aa":"E","lo":0.63,"hi":0.7,"a":0.08},{"k":11,"pos":10,"aa":"V","lo":0.7,"hi":0.78,"a":0.08},{"k":11,"pos":10,"aa":"R","lo":0.78,"hi":0.86,"a":0.1},{"k":11,"pos":10,"aa":"W","lo":0.86,"hi":0.93,"a":0.06},{"k":11,"pos":10,"aa":"F","lo":0.93,"hi":0.99,"a":0.06},
{"k":11,"pos":11,"aa":"Y","lo":0.01,"hi":0.52,"a":0.63},{"k":11,"pos":11,"aa":"W","lo":0.53,"hi":0.69,"a":0.24},{"k":11,"pos":11,"aa":"K","lo":0.69,"hi":0.78,"a":0.18},{"k":11,"pos":11,"aa":"F","lo":0.79,"hi":0.88,"a":0.12},{"k":11,"pos":11,"aa":"R","lo":0.88,"hi":0.95,"a":0.1},{"k":11,"pos":11,"aa":"M","lo":0.95,"hi":0.98,"a":0.06}
]},
"vconcat": [
{
 "width": 738, "height": 201,
 "title": "HLA-A*01:134 8-mer",
 "data": {"name": "logo"},
 "transform": [{"filter": "datum.k == 8"}, {"calculate": "datum.aa + datum.pos", "as": "key"}, {"calculate": "datum.hi - datum.lo", "as": "h"}],
 "encoding": {
  "x": {"field": "pos", "type": "ordinal", "scale": {"type": "band", "domain": [1,2,3,4,5,6,7,8], "paddingInner": 0.2, "paddingOuter": 0}, "axis": {"labelAngle": 0, "labelPadding": 5}},
  "y": {"field": "lo", "type": "quantitative", "scale": {"domain": [0, 1], "nice": false}, "axis": {"values": [0, 0.2, 0.4, 0.6, 0.8, 1], "format": ".1f", "labelPadding": 4}},
  "color": {"field": "aa", "type": "nominal", "scale": {"domain": ["D","E","C","S","T","N","Q","G","P","Y","H","W","F","M","L","I","V","A","K","R"], "range": ["#8e588b","#8e588b","#8e588b","#5cbf6a","#5cbf6a","#5cbf6a","#5cbf6a","#b0a84c","#b0a84c","#3e8e8a","#3e8e8a","#7090c0","#7090c0","#7090c0","#7090c0","#7090c0","#7090c0","#7090c0","#d65a5a","#d65a5a"]}, "legend": null}
 },
 "layer": [
  {"transform": [{"filter": {"not": {"field": "key", "oneOf": ["T2","S2","D3","Y8","W8"]}}}],
   "mark": {"type": "bar"},
   "encoding": {"y2": {"field": "hi"}, "opacity": {"field": "a", "type": "quantitative", "scale": {"domain": [0, 1], "range": [0, 0.85]}, "legend": null}}},
  {"transform": [{"filter": {"field": "key", "oneOf": ["T2","S2","D3","Y8","W8"]}}],
   "mark": {"type": "point", "filled": true, "strokeWidth": 0},
   "encoding": {
    "shape": {"field": "key", "type": "nominal", "scale": {"domain": ["T2","S2","D3","Y8","W8"], "range": [
      "M-1.52 -2L1.52 -2L1.52 -1.6L0.426 -1.6L0.426 0L-0.426 0L-0.426 -1.6L-1.52 -1.6Z",
      "M1.47 -1.88C0.91 -2 0.42 -2 0 -2C-1.05 -2 -1.645 -1.76 -1.645 -1.4C-1.645 -1.04 -1.19 -0.94 -0.28 -0.86C0.49 -0.8 0.7 -0.74 0.7 -0.6C0.7 -0.44 0.42 -0.38 0 -0.38C-0.525 -0.38 -1.05 -0.46 -1.505 -0.6L-1.505 -0.14C-0.98 -0.02 -0.42 0 0 0C1.12 0 1.68 -0.24 1.68 -0.62C1.68 -1 1.19 -1.1 0.28 -1.18C-0.49 -1.24 -0.665 -1.28 -0.665 -1.4C-0.665 -1.54 -0.42 -1.62 0 -1.62C0.49 -1.62 0.98 -1.54 1.47 -1.42Z",
      "M-0.74 0L-0.74 -2L-0.118 -2C0.444 -2 0.74 -1.6 0.74 -1C0.74 -0.4 0.444 0 -0.118 0ZM-0.266 -0.36L-0.118 -0.36C0.178 -0.36 0.326 -0.6 0.326 -1C0.326 -1.4 0.178 -1.64 -0.118 -1.64L-0.266 -1.64Z",
      "M-0.67 -2L-0.241 -2L0 -1.28L0.241 -2L0.67 -2L0.174 -0.84L0.174 0L-0.174 0L-0.174 -0.84Z",
      "M-3.5 -2L-2.1 -2L-1.33 -0.64L-0.56 -2L0.56 -2L1.33 -0.64L2.1 -2L3.5 -2L2.31 0L0.7 0L0 -1.2L-0.7 0L-2.31 0Z"]}, "legend": null},
    "size": {"field": "h", "type": "quantitative", "scale": {"type": "pow", "exponent": 2, "domain": [0, 1], "range": [0, 40401]}, "legend": null},
    "opacity": {"field": "a", "type": "quantitative", "scale": null, "legend": null}}}
 ],
 "resolve": {"scale": {"opacity": "independent"}}
},
{
 "width": 738, "height": 201,
 "title": "HLA-A*01:134 9-mer",
 "data": {"name": "logo"},
 "transform": [{"filter": "datum.k == 9"}, {"calculate": "datum.aa + datum.pos", "as": "key"}, {"calculate": "datum.hi - datum.lo", "as": "h"}],
 "encoding": {
  "x": {"field": "pos", "type": "ordinal", "scale": {"type": "band", "domain": [1,2,3,4,5,6,7,8,9], "paddingInner": 0.2, "paddingOuter": 0}, "axis": {"labelAngle": 0, "labelPadding": 5}},
  "y": {"field": "lo", "type": "quantitative", "scale": {"domain": [0, 1], "nice": false}, "axis": {"values": [0, 0.2, 0.4, 0.6, 0.8, 1], "format": ".1f", "labelPadding": 4}},
  "color": {"field": "aa", "type": "nominal", "scale": {"domain": ["D","E","C","S","T","N","Q","G","P","Y","H","W","F","M","L","I","V","A","K","R"], "range": ["#8e588b","#8e588b","#8e588b","#5cbf6a","#5cbf6a","#5cbf6a","#5cbf6a","#b0a84c","#b0a84c","#3e8e8a","#3e8e8a","#7090c0","#7090c0","#7090c0","#7090c0","#7090c0","#7090c0","#7090c0","#d65a5a","#d65a5a"]}, "legend": null}
 },
 "layer": [
  {"transform": [{"filter": {"not": {"field": "key", "oneOf": ["T2","S2","D3","E3","Y9"]}}}],
   "mark": {"type": "bar"},
   "encoding": {"y2": {"field": "hi"}, "opacity": {"field": "a", "type": "quantitative", "scale": {"domain": [0, 1], "range": [0, 0.85]}, "legend": null}}},
  {"transform": [{"filter": {"field": "key", "oneOf": ["T2","S2","D3","E3","Y9"]}}],
   "mark": {"type": "point", "filled": true, "strokeWidth": 0},
   "encoding": {
    "shape": {"field": "key", "type": "nominal", "scale": {"domain": ["T2","S2","D3","E3","Y9"], "range": [
      "M-1.29 -2L1.29 -2L1.29 -1.6L0.361 -1.6L0.361 0L-0.361 0L-0.361 -1.6L-1.29 -1.6Z",
      "M1.47 -1.88C0.91 -2 0.42 -2 0 -2C-1.05 -2 -1.645 -1.76 -1.645 -1.4C-1.645 -1.04 -1.19 -0.94 -0.28 -0.86C0.49 -0.8 0.7 -0.74 0.7 -0.6C0.7 -0.44 0.42 -0.38 0 -0.38C-0.525 -0.38 -1.05 -0.46 -1.505 -0.6L-1.505 -0.14C-0.98 -0.02 -0.42 0 0 0C1.12 0 1.68 -0.24 1.68 -0.62C1.68 -1 1.19 -1.1 0.28 -1.18C-0.49 -1.24 -0.665 -1.28 -0.665 -1.4C-0.665 -1.54 -0.42 -1.62 0 -1.62C0.49 -1.62 0.98 -1.54 1.47 -1.42Z",
      "M-0.8 0L-0.8 -2L-0.128 -2C0.48 -2 0.8 -1.6 0.8 -1C0.8 -0.4 0.48 0 -0.128 0ZM-0.288 -0.36L-0.128 -0.36C0.192 -0.36 0.352 -0.6 0.352 -1C0.352 -1.4 0.192 -1.64 -0.128 -1.64L-0.288 -1.64Z",
      "M-4.2 0L-4.2 -2L4.2 -2L4.2 -1.62L-1.512 -1.62L-1.512 -1.18L3.36 -1.18L3.36 -0.82L-1.512 -0.82L-1.512 -0.38L4.2 -0.38L4.2 0Z",
      "M-0.49 -2L-0.176 -2L0 -1.28L0.176 -2L0.49 -2L0.127 -0.84L0.127 0L-0.127 0L-0.127 -0.84Z"]}, "legend": null},
    "size": {"field": "h", "type": "quantitative", "scale": {"type": "pow", "exponent": 2, "domain": [0, 1], "range": [0, 40401]}, "legend": null},
    "opacity": {"field": "a", "type": "quantitative", "scale": null, "legend": null}}}
 ],
 "resolve": {"scale": {"opacity": "independent"}}
},
{
 "width": 738, "height": 201,
 "title": "HLA-A*01:134 10-mer",
 "data": {"name": "logo"},
 "transform": [{"filter": "datum.k == 10"}, {"calculate": "datum.aa + datum.pos", "as": "key"}, {"calculate": "datum.hi - datum.lo", "as": "h"}],
 "encoding": {
  "x": {"field": "pos", "type": "ordinal", "scale": {"type": "band", "domain": [1,2,3,4,5,6,7,8,9,10], "paddingInner": 0.2, "paddingOuter": 0}, "axis": {"labelAngle": 0, "labelPadding": 5}},
  "y": {"field": "lo", "type": "quantitative", "scale": {"domain": [0, 1], "nice": false}, "axis": {"values": [0, 0.2, 0.4, 0.6, 0.8, 1], "format": ".1f", "labelPadding": 4}},
  "color": {"field": "aa", "type": "nominal", "scale": {"domain": ["D","E","C","S","T","N","Q","G","P","Y","H","W","F","M","L","I","V","A","K","R"], "range": ["#8e588b","#8e588b","#8e588b","#5cbf6a","#5cbf6a","#5cbf6a","#5cbf6a","#b0a84c","#b0a84c","#3e8e8a","#3e8e8a","#7090c0","#7090c0","#7090c0","#7090c0","#7090c0","#7090c0","#7090c0","#d65a5a","#d65a5a"]}, "legend": null}
 },
 "layer": [
  {"transform": [{"filter": {"not": {"field": "key", "oneOf": ["T2","S2","D3","D4","E3","Y10","W10"]}}}],
   "mark": {"type": "bar"},
   "encoding": {"y2": {"field": "hi"}, "opacity": {"field": "a", "type": "quantitative", "scale": {"domain": [0, 1], "range": [0, 0.85]}, "legend": null}}},
  {"transform": [{"filter": {"field": "key", "oneOf": ["T2","S2","D3","D4","E3","Y10","W10"]}}],
   "mark": {"type": "point", "filled": true, "strokeWidth": 0},
   "encoding": {
    "shape": {"field": "key", "type": "nominal", "scale": {"domain": ["T2","S2","D3","D4","E3","Y10","W10"], "range": [
      "M-1.13 -2L1.13 -2L1.13 -1.6L0.316 -1.6L0.316 0L-0.316 0L-0.316 -1.6L-1.13 -1.6Z",
      "M1.47 -1.88C0.91 -2 0.42 -2 0 -2C-1.05 -2 -1.645 -1.76 -1.645 -1.4C-1.645 -1.04 -1.19 -0.94 -0.28 -0.86C0.49 -0.8 0.7 -0.74 0.7 -0.6C0.7 -0.44 0.42 -0.38 0 -0.38C-0.525 -0.38 -1.05 -0.46 -1.505 -0.6L-1.505 -0.14C-0.98 -0.02 -0.42 0 0 0C1.12 0 1.68 -0.24 1.68 -0.62C1.68 -1 1.19 -1.1 0.28 -1.18C-0.49 -1.24 -0.665 -1.28 -0.665 -1.4C-0.665 -1.54 -0.42 -1.62 0 -1.62C0.49 -1.62 0.98 -1.54 1.47 -1.42Z",
      "M-0.82 0L-0.82 -2L-0.131 -2C0.492 -2 0.82 -1.6 0.82 -1C0.82 -0.4 0.492 0 -0.131 0ZM-0.295 -0.36L-0.131 -0.36C0.197 -0.36 0.361 -0.6 0.361 -1C0.361 -1.4 0.197 -1.64 -0.131 -1.64L-0.295 -1.64Z",
      "M-1.6 0L-1.6 -2L-0.256 -2C0.96 -2 1.6 -1.6 1.6 -1C1.6 -0.4 0.96 0 -0.256 0ZM-0.576 -0.36L-0.256 -0.36C0.384 -0.36 0.704 -0.6 0.704 -1C0.704 -1.4 0.384 -1.64 -0.256 -1.64L-0.576 -1.64Z",
      "M-3.4 0L-3.4 -2L3.4 -2L3.4 -1.62L-1.224 -1.62L-1.224 -1.18L2.72 -1.18L2.72 -0.82L-1.224 -0.82L-1.224 -0.38L3.4 -0.38L3.4 0Z",
      "M-0.45 -2L-0.162 -2L0 -1.28L0.162 -2L0.45 -2L0.117 -0.84L0.117 0L-0.117 0L-0.117 -0.84Z",
      "M-3.5 -2L-2.1 -2L-1.33 -0.64L-0.56 -2L0.56 -2L1.33 -0.64L2.1 -2L3.5 -2L2.31 0L0.7 0L0 -1.2L-0.7 0L-2.31 0Z"]}, "legend": null},
    "size": {"field": "h", "type": "quantitative", "scale": {"type": "pow", "exponent": 2, "domain": [0, 1], "range": [0, 40401]}, "legend": null},
    "opacity": {"field": "a", "type": "quantitative", "scale": null, "legend": null}}}
 ],
 "resolve": {"scale": {"opacity": "independent"}}
},
{
 "width": 738, "height": 201,
 "title": "HLA-A*01:134 11-mer",
 "data": {"name": "logo"},
 "transform": [{"filter": "datum.k == 11"}, {"calculate": "datum.aa + datum.pos", "as": "key"}, {"calculate": "datum.hi - datum.lo", "as": "h"}],
 "encoding": {
  "x": {"field": "pos", "type": "ordinal", "scale": {"type": "band", "domain": [1,2,3,4,5,6,7,8,9,10,11], "paddingInner": 0.2, "paddingOuter": 0}, "axis": {"labelAngle": 0, "labelPadding": 5}},
  "y": {"field": "lo", "type": "quantitative", "scale": {"domain": [0, 1], "nice": false}, "axis": {"values": [0, 0.2, 0.4, 0.6, 0.8, 1], "format": ".1f", "labelPadding": 4}},
  "color": {"field": "aa", "type": "nominal", "scale": {"domain": ["D","E","C","S","T","N","Q","G","P","Y","H","W","F","M","L","I","V","A","K","R"], "range": ["#8e588b","#8e588b","#8e588b","#5cbf6a","#5cbf6a","#5cbf6a","#5cbf6a","#b0a84c","#b0a84c","#3e8e8a","#3e8e8a","#7090c0","#7090c0","#7090c0","#7090c0","#7090c0","#7090c0","#7090c0","#d65a5a","#d65a5a"]}, "legend": null}
 },
 "layer": [
  {"transform": [{"filter": {"not": {"field": "key", "oneOf": ["T2","S2","D3","E3","D4","Y11","W11"]}}}],
   "mark": {"type": "bar"},
   "encoding": {"y2": {"field": "hi"}, "opacity": {"field": "a", "type": "quantitative", "scale": {"domain": [0, 1], "range": [0, 0.85]}, "legend": null}}},
  {"transform": [{"filter": {"field": "key", "oneOf": ["T2","S2","D3","E3","D4","Y11","W11"]}}],
   "mark": {"type": "point", "filled": true, "strokeWidth": 0},
   "encoding": {
    "shape": {"field": "key", "type": "nominal", "scale": {"domain": ["T2","S2","D3","E3","D4","Y11","W11"], "range": [
      "M-0.83 -2L0.83 -2L0.83 -1.6L0.232 -1.6L0.232 0L-0.232 0L-0.232 -1.6L-0.83 -1.6Z",
      "M1.302 -1.88C0.806 -2 0.372 -2 0 -2C-0.93 -2 -1.457 -1.76 -1.457 -1.4C-1.457 -1.04 -1.054 -0.94 -0.248 -0.86C0.434 -0.8 0.62 -0.74 0.62 -0.6C0.62 -0.44 0.372 -0.38 0 -0.38C-0.465 -0.38 -0.93 -0.46 -1.333 -0.6L-1.333 -0.14C-0.868 -0.02 -0.372 0 0 0C0.992 0 1.488 -0.24 1.488 -0.62C1.488 -1 1.054 -1.1 0.248 -1.18C-0.434 -1.24 -0.589 -1.28 -0.589 -1.4C-0.589 -1.54 -0.372 -1.62 0 -1.62C0.434 -1.62 0.868 -1.54 1.302 -1.42Z",
      "M-0.69 0L-0.69 -2L-0.11 -2C0.414 -2 0.69 -1.6 0.69 -1C0.69 -0.4 0.414 0 -0.11 0ZM-0.248 -0.36L-0.11 -0.36C0.166 -0.36 0.304 -0.6 0.304 -1C0.304 -1.4 0.166 -1.64 -0.11 -1.64L-0.248 -1.64Z",
      "M-2.5 0L-2.5 -2L2.5 -2L2.5 -1.62L-0.9 -1.62L-0.9 -1.18L2 -1.18L2 -0.82L-0.9 -0.82L-0.9 -0.38L2.5 -0.38L2.5 0Z",
      "M-1.6 0L-1.6 -2L-0.256 -2C0.96 -2 1.6 -1.6 1.6 -1C1.6 -0.4 0.96 0 -0.256 0ZM-0.576 -0.36L-0.256 -0.36C0.384 -0.36 0.704 -0.6 0.704 -1C0.704 -1.4 0.384 -1.64 -0.256 -1.64L-0.576 -1.64Z",
      "M-0.54 -2L-0.194 -2L0 -1.28L0.194 -2L0.54 -2L0.14 -0.84L0.14 0L-0.14 0L-0.14 -0.84Z",
      "M-1.72 -2L-1.032 -2L-0.654 -0.64L-0.275 -2L0.275 -2L0.654 -0.64L1.032 -2L1.72 -2L1.135 0L0.344 0L0 -1.2L-0.344 0L-1.135 0Z"]}, "legend": null},
    "size": {"field": "h", "type": "quantitative", "scale": {"type": "pow", "exponent": 2, "domain": [0, 1], "range": [0, 40401]}, "legend": null},
    "opacity": {"field": "a", "type": "quantitative", "scale": null, "legend": null}}}
 ],
 "resolve": {"scale": {"opacity": "independent"}}
}
]
}
